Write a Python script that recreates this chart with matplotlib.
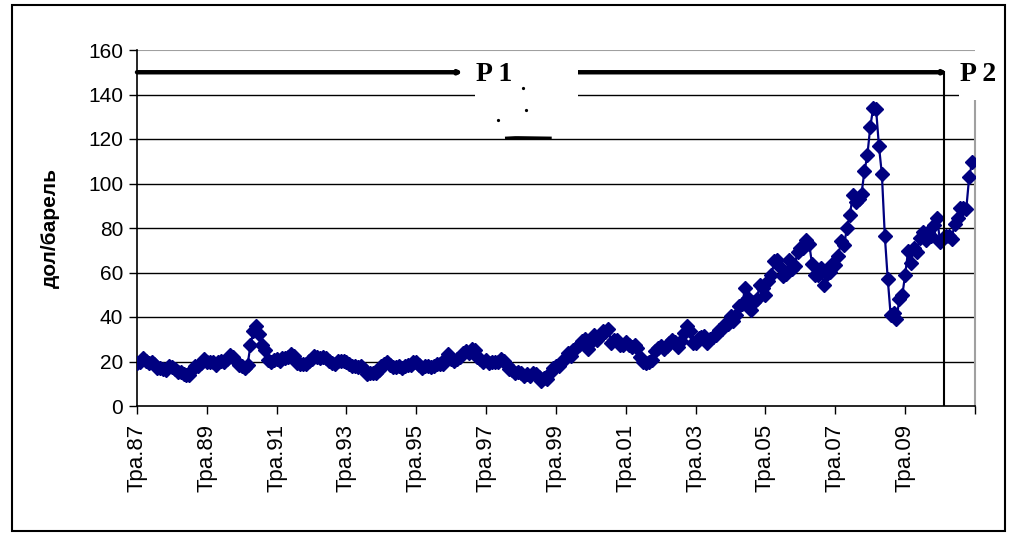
import matplotlib
matplotlib.use("Agg")
import matplotlib.pyplot as plt
from matplotlib.patches import Rectangle
import numpy as np

# monthly oil price, May 1987 .. April 2011 (dol/barrel)
p1987 = [19.4, 20.0, 21.4, 20.3, 19.5, 19.8, 18.9, 17.3]
p1988 = [17.1, 16.7, 16.2, 17.9, 17.4, 16.5, 15.5, 15.5, 14.5, 13.8, 14.0, 16.3]
p1989 = [18.0, 17.8, 19.4, 21.0, 20.0, 20.0, 19.6, 18.5, 19.6, 20.1, 19.8, 21.1]
p1990 = [22.9, 22.1, 20.4, 18.4, 18.2, 16.9, 18.6, 27.2, 33.7, 35.9, 32.3, 27.3]
p1991 = [25.2, 20.5, 19.9, 20.8, 21.2, 20.2, 21.4, 21.7, 21.9, 23.2, 22.5, 19.5]
p1992 = [18.8, 19.0, 18.9, 20.2, 20.9, 22.4, 21.8, 21.4, 21.9, 21.7, 20.3, 19.4]
p1993 = [19.0, 20.1, 20.3, 20.3, 19.9, 19.1, 17.9, 18.0, 17.5, 18.1, 16.7, 14.5]
p1994 = [15.0, 14.8, 14.7, 16.4, 17.9, 19.1, 19.7, 18.4, 17.5, 17.7, 18.1, 17.2]
p1995 = [18.0, 18.6, 18.5, 19.9, 19.7, 18.4, 17.3, 17.9, 18.0, 17.4, 18.0, 19.0]
p1996 = [18.9, 19.1, 21.3, 23.5, 21.2, 20.4, 21.3, 21.9, 23.9, 24.9, 23.7, 25.4]
p1997 = [25.1, 22.2, 20.9, 19.7, 20.8, 19.2, 19.6, 19.9, 19.8, 21.3, 20.2, 18.3]
p1998 = [16.7, 16.1, 15.0, 15.4, 14.9, 13.7, 14.2, 13.4, 15.0, 14.4, 12.9, 11.3]
p1999 = [12.5, 12.0, 14.7, 17.3, 17.8, 17.9, 20.1, 21.3, 23.9, 22.6, 25.0, 26.1]
p2000 = [27.2, 29.4, 29.9, 25.7, 28.8, 31.8, 29.7, 31.3, 33.9, 33.1, 34.4, 28.5]
p2001 = [29.6, 29.6, 27.2, 27.4, 28.6, 27.6, 26.5, 27.5, 25.9, 22.2, 19.6, 19.3]
p2002 = [19.7, 20.7, 24.5, 26.2, 27.0, 25.5, 26.9, 28.4, 29.7, 28.9, 26.3, 29.4]
p2003 = [32.9, 35.9, 33.6, 28.3, 28.1, 30.7, 30.8, 31.6, 28.3, 30.3, 31.1, 32.1]
p2004 = [34.3, 34.7, 36.7, 36.7, 40.3, 38.0, 40.7, 44.9, 45.9, 53.1, 48.5, 43.2]
p2005 = [46.8, 48.1, 54.2, 53.0, 49.8, 56.3, 58.7, 65.0, 65.6, 62.4, 58.3, 59.4]
p2006 = [65.5, 61.6, 62.7, 69.4, 70.8, 70.9, 74.4, 73.0, 63.8, 58.9, 59.1, 62.0]
p2007 = [54.5, 59.3, 60.4, 64.0, 63.5, 67.5, 74.1, 72.4, 79.9, 85.8, 94.8, 91.7]
p2008 = [93.0, 95.4, 105.5, 112.6, 125.4, 133.9, 133.4, 116.7, 104.1, 76.6, 57.3, 41.1]
p2009 = [41.7, 39.1, 47.9, 49.7, 59.0, 69.6, 64.2, 71.1, 69.4, 75.7, 78.0, 74.5]
p2010 = [78.3, 76.4, 81.2, 84.3, 73.7, 75.3, 76.3, 76.6, 75.2, 81.9, 84.3, 89.2]
p2011 = [89.2, 88.6, 102.9, 109.5]

prices = (p1987 + p1988 + p1989 + p1990 + p1991 + p1992 + p1993 + p1994 + p1995
          + p1996 + p1997 + p1998 + p1999 + p2000 + p2001 + p2002 + p2003 + p2004
          + p2005 + p2006 + p2007 + p2008 + p2009 + p2010 + p2011)
months = np.arange(len(prices))

tick_labels = ["Тра.87", "Тра.89", "Тра.91", "Тра.93", "Тра.95", "Тра.97",
               "Тра.99", "Тра.01", "Тра.03", "Тра.05", "Тра.07", "Тра.09"]
period_level = 150
p1_end = 112
p2_start = 140
p2_end = 277.5

navy = "#000080"
grey = "#a0a0a0"

fig = plt.figure(figsize=(10.12, 5.33), dpi=100)
ax = fig.add_axes([137 / 1012, 1 - 406 / 533, 838 / 1012, 356 / 533])

ax.plot(months, prices, color=navy, lw=1.6, marker="D", ms=7,
        mec=navy, mfc=navy, zorder=4)

ax.set_xlim(0, len(prices))
ax.set_ylim(0, 160)
ax.set_yticks(range(0, 161, 20))
ax.set_xticks(list(range(0, 265, 24)) + [len(prices)])
ax.set_xticklabels(tick_labels + [""], rotation=90, fontsize=16,
                   family="Liberation Sans")
for lab in ax.get_yticklabels():
    lab.set_fontsize(15)
    lab.set_family("Liberation Sans")
ax.tick_params(axis="both", direction="out", length=6, width=1, color="black")
ax.tick_params(axis="y", pad=4)
ax.tick_params(axis="x", pad=7)

for v in range(20, 141, 20):
    ax.axhline(v, color="black", lw=1, zorder=1)
ax.axhline(160, color=grey, lw=1.5, zorder=1)
ax.plot([len(prices)] * 2, [0, 137.5], color=grey, lw=1.5, zorder=1, clip_on=False)

for s in ["top", "right"]:
    ax.spines[s].set_visible(False)
ax.spines["left"].set_linewidth(1.2)
ax.spines["bottom"].set_linewidth(1.2)

ax.set_ylabel("дол/барель", fontsize=15, fontweight="bold", family="Liberation Sans",
              labelpad=20)

# period markers
ax.annotate("", xy=(p1_end, period_level), xytext=(0, period_level),
            arrowprops=dict(arrowstyle="-|>", lw=3.2, color="black",
                            mutation_scale=4, shrinkA=0, shrinkB=0), zorder=5)
ax.annotate("", xy=(p2_end + 1.0, period_level), xytext=(p2_start, period_level),
            arrowprops=dict(arrowstyle="-|>", lw=3.2, color="black",
                            mutation_scale=4, shrinkA=0, shrinkB=0), zorder=5)
ax.plot([p2_end, p2_end], [0, period_level], color="black", lw=1.5, zorder=5)

# white label boxes
ax.add_patch(Rectangle((116, 126), 35.5, 32, facecolor="white", edgecolor="none",
                       zorder=6, clip_on=False))
ax.add_patch(Rectangle((282.5, 137.5), 20, 20.5, facecolor="white", edgecolor="none",
                       zorder=6, clip_on=False))
ax.text(116.5, period_level - 1, "P 1", fontsize=20, fontweight="bold",
        family="Liberation Serif", va="center", ha="left", zorder=7)
ax.text(283, period_level - 1, "P 2", fontsize=20, fontweight="bold",
        family="Liberation Serif", va="center", ha="left", zorder=7, clip_on=False)

# small stray marks inside the P 1 box
ax.plot([132.6, 133.7, 124], [142.9, 133, 128.5], ls="none", marker="o", ms=1.3,
        color="black", zorder=7)
ax.plot([127, 130, 131, 142], [120.4, 120.6, 120.6, 120.4], color="black", lw=2.2,
        zorder=5)

# outer frame
fig.add_artist(Rectangle((12 / 1012, 2 / 533), 993 / 1012, 526 / 533,
                         transform=fig.transFigure, fill=False, edgecolor="black",
                         lw=1.5))

fig.savefig("out.png", dpi=100)
